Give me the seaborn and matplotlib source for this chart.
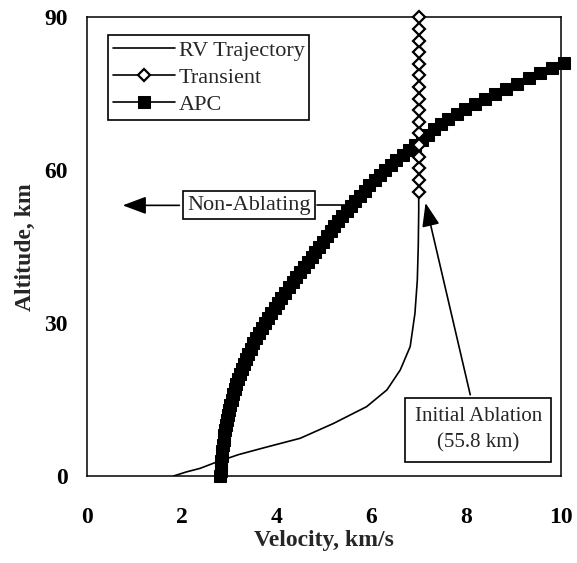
import matplotlib
matplotlib.use("Agg")
import matplotlib.pyplot as plt
import seaborn as sns
import pandas as pd

# ---------------- data ----------------
# RV trajectory (velocity km/s, altitude km)
rv_velocity = [1.83, 2.10, 2.39, 2.67, 3.20, 3.80, 4.50, 5.20, 5.90, 6.33,
               6.61, 6.82, 6.92, 6.97, 6.99, 7.00, 7.00]
rv_altitude = [0.0, 0.8, 1.5, 2.5, 4.2, 5.7, 7.4, 10.3, 13.6, 16.9,
               20.8, 25.4, 31.9, 38.4, 45.0, 52.0, 55.8]

# Transient (velocity fixed, altitudes)
tr_velocity = [7.0] * 16
tr_altitude = [55.8, 58.1, 60.4, 62.6, 64.9, 67.2, 69.5, 71.8, 74.0, 76.3,
               78.6, 80.9, 83.2, 85.4, 87.7, 90.0]

# APC curve
apc_altitude = list(range(0, 82))
apc_velocity = [2.82, 2.83, 2.83, 2.84, 2.85, 2.86, 2.87, 2.89, 2.90, 2.92,
                2.94, 2.96, 2.98, 3.01, 3.03, 3.06, 3.09, 3.12, 3.15, 3.19,
                3.23, 3.27, 3.31, 3.36, 3.41, 3.46, 3.51, 3.57, 3.63, 3.69,
                3.75, 3.82, 3.89, 3.96, 4.03, 4.10, 4.18, 4.26, 4.34, 4.42,
                4.50, 4.58, 4.66, 4.74, 4.82, 4.90, 4.98, 5.06, 5.14, 5.22,
                5.30, 5.39, 5.48, 5.57, 5.66, 5.76, 5.86, 5.96, 6.07, 6.18,
                6.29, 6.41, 6.53, 6.66, 6.79, 6.93, 7.06, 7.19, 7.32, 7.47,
                7.62, 7.80, 7.98, 8.18, 8.39, 8.61, 8.84, 9.08, 9.32, 9.56,
                9.81, 10.06]

x_ticks = [0, 2, 4, 6, 8, 10]
y_ticks = [0, 30, 60, 90]

# ---------------- style ----------------
sns.set_style("white")
plt.rcParams["font.family"] = ["Liberation Serif", "DejaVu Serif"]
plt.rcParams["axes.edgecolor"] = "black"
plt.rcParams["axes.linewidth"] = 1.1

fig = plt.figure(figsize=(5.77, 5.63), dpi=100)
ax = fig.add_axes([0.1503, 0.1545, 0.8220, 0.8148])

rv_df = pd.DataFrame({"v": rv_velocity, "h": rv_altitude})
tr_df = pd.DataFrame({"v": tr_velocity, "h": tr_altitude})
apc_df = pd.DataFrame({"v": apc_velocity, "h": apc_altitude})

sns.lineplot(data=rv_df, x="v", y="h", sort=False, estimator=None, ax=ax,
             color="black", linewidth=1.2, label="RV Trajectory", zorder=3)
sns.lineplot(data=apc_df, x="v", y="h", sort=False, estimator=None, ax=ax,
             color="black", linewidth=1.2, marker="s", markersize=9,
             markerfacecolor="black", markeredgecolor="black",
             label="APC", zorder=4, clip_on=False)
sns.lineplot(data=tr_df, x="v", y="h", sort=False, estimator=None, ax=ax,
             color="black", linewidth=1.2, marker="D", markersize=6,
             markerfacecolor="white", markeredgecolor="black",
             markeredgewidth=1.6, label="Transient", zorder=5, clip_on=False)

ax.set_xlim(0, 10)
ax.set_ylim(0, 90)
ax.set_xticks(x_ticks)
ax.set_yticks(y_ticks)
ax.set_xticklabels([str(t) for t in x_ticks], fontweight="bold")
ax.set_yticklabels([str(t) for t in y_ticks], fontweight="bold")
ax.tick_params(axis="both", direction="inout", length=9, width=1.0,
               labelsize=17, colors="black")
ax.tick_params(axis="x", pad=18)
ax.tick_params(axis="y", pad=9)
ax.set_xlabel("Velocity, km/s", fontsize=17, fontweight="bold", labelpad=1)
ax.set_ylabel("Altitude, km", fontsize=17, fontweight="bold", labelpad=6)
for s in ax.spines.values():
    s.set_visible(True)
    s.set_color("black")

# legend (order as in reference)
handles, labels = ax.get_legend_handles_labels()
order = [labels.index(n) for n in ["RV Trajectory", "Transient", "APC"]]
leg = ax.legend([handles[i] for i in order], [labels[i] for i in order],
                loc="upper left", bbox_to_anchor=(0.045, 0.961),
                borderaxespad=0, fancybox=False, frameon=True,
                edgecolor="black", framealpha=1, fontsize=16,
                handlelength=2.8, handletextpad=0.15, labelspacing=0.3,
                borderpad=0.22)
leg.get_frame().set_linewidth(1.2)

# annotations
ax.plot([4.85, 5.45], [53.1, 53.1], color="black", lw=1.2, zorder=2)
ax.annotate("Non-Ablating", xy=(0.70, 53.1), xytext=(3.42, 53.1),
            ha="center", va="center", fontsize=16,
            bbox=dict(boxstyle="square,pad=0.2", fc="white", ec="black", lw=1.2),
            arrowprops=dict(arrowstyle="-|>,head_length=0.8,head_width=0.3",
                            color="black", lw=1.2, mutation_scale=18),
            zorder=6)
ax.annotate("Initial Ablation\n(55.8 km)", xy=(7.13, 54.1), xytext=(8.26, 9.0),
            ha="center", va="center", fontsize=15, linespacing=1.5,
            bbox=dict(boxstyle="square,pad=0.45", fc="white", ec="black", lw=1.2),
            arrowprops=dict(arrowstyle="-|>,head_length=0.8,head_width=0.3",
                            color="black", lw=1.2, mutation_scale=18),
            zorder=6)

fig.savefig("out.png", dpi=100)
